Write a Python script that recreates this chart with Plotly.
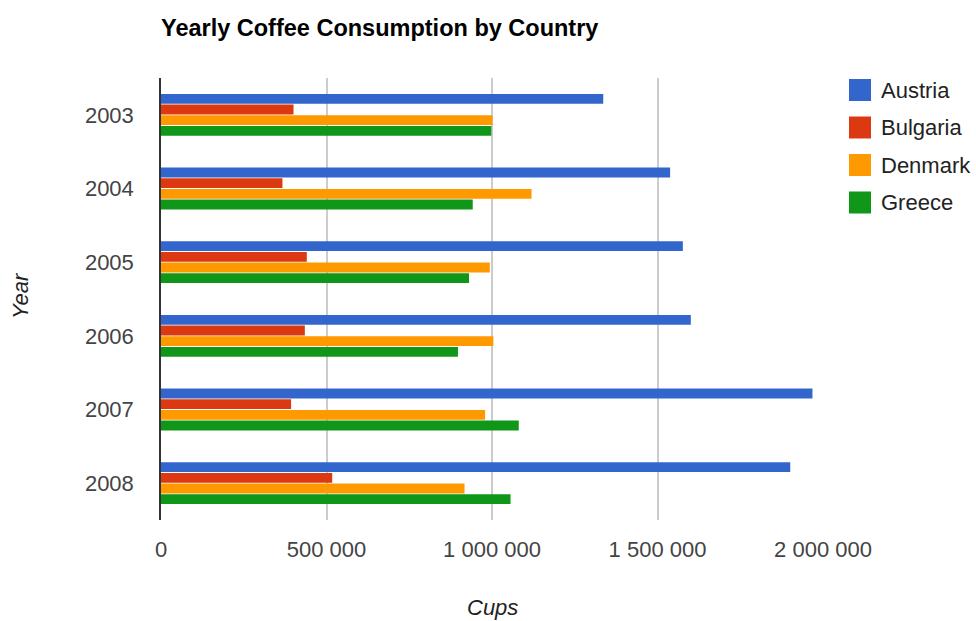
import plotly.graph_objects as go

years = ["2003", "2004", "2005", "2006", "2007", "2008"]
countries = ["Austria", "Bulgaria", "Denmark", "Greece"]
austria = [1336060, 1538156, 1576579, 1600652, 1968113, 1901067]
bulgaria = [400361, 366849, 440514, 434552, 393032, 517206]
denmark = [1001582, 1119450, 993360, 1004163, 979198, 916965]
greece = [997974, 941795, 930593, 897127, 1080887, 1056036]
series = [austria, bulgaria, denmark, greece]
colors = ["#3366cc", "#dc3912", "#ff9900", "#109618"]
x_tickvals = [0, 500000, 1000000, 1500000, 2000000]
x_ticktext = ["0", "500 000", "1 000 000", "1 500 000", "2 000 000"]

FONT = "Arial, Liberation Sans, sans-serif"

fig = go.Figure()
for name, vals, col in zip(countries, series, colors):
    fig.add_trace(go.Bar(
        y=years, x=vals, name=name, orientation="h",
        marker=dict(color=col, line=dict(width=0)),
        showlegend=False,
    ))

W, H = 976, 621
L, R, T, B = 161, 153, 78, 101
pw, ph = W - L - R, H - T - B

fig.update_layout(
    width=W, height=H,
    margin=dict(l=L, r=R, t=T, b=B, pad=0),
    paper_bgcolor="white", plot_bgcolor="white",
    font=dict(family=FONT, size=22, color="#444"),
    barmode="group", bargap=0.42, bargroupgap=0.08,
    title=dict(text="<b>Yearly Coffee Consumption by Country</b>",
               x=L / W, xanchor="left", xref="container",
               y=1 - 28 / H, yanchor="middle", yref="container",
               font=dict(family=FONT, size=23.5, color="#000")),
    xaxis=dict(range=[0, 2000000], tickvals=x_tickvals, ticktext=x_ticktext,
               showgrid=True, gridcolor="#cccccc", gridwidth=1.6,
               zeroline=False, showline=False, ticks="",
               ticklabelstandoff=14,
               tickfont=dict(size=22, color="#444")),
    yaxis=dict(autorange="reversed", type="category",
               showline=True, linecolor="#333", linewidth=1.5,
               showgrid=False, zeroline=False, ticks="",
               ticklabelstandoff=21,
               tickfont=dict(size=22, color="#444")),
    showlegend=False,
)

# axis titles
fig.add_annotation(text="<i>Cups</i>", xref="paper", yref="paper",
                   x=0.5, y=-(607 - 520) / ph, xanchor="center", yanchor="middle",
                   showarrow=False, font=dict(family=FONT, size=22, color="#222"))
fig.add_annotation(text="<i>Year</i>", xref="paper", yref="paper",
                   x=(20 - L) / pw, y=0.5 - (296 - (T + ph / 2)) / ph,
                   xanchor="center", yanchor="middle", textangle=-90,
                   showarrow=False, font=dict(family=FONT, size=22, color="#222"))

# custom legend (squares + labels)
leg_y = [90, 127.5, 165, 202.5]
for name, col, cy in zip(countries, colors, leg_y):
    fig.add_shape(type="rect", xref="paper", yref="paper",
                  x0=(849 - L) / pw, x1=(871 - L) / pw,
                  y0=1 - (cy - 11 - T) / ph, y1=1 - (cy + 11 - T) / ph,
                  fillcolor=col, line=dict(width=0))
    fig.add_annotation(text=name, xref="paper", yref="paper",
                       x=(879 - L) / pw, y=1 - (cy - T) / ph,
                       xanchor="left", yanchor="middle", showarrow=False,
                       font=dict(family=FONT, size=22, color="#222"))

fig.write_html("out.html")
